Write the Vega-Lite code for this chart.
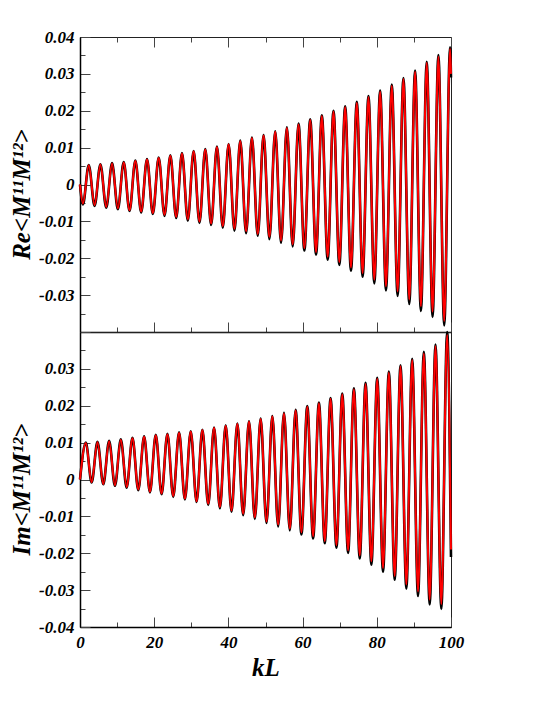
{
  "$schema": "https://vega.github.io/schema/vega-lite/v6.json",
  "autosize": {"type": "pad"},
  "padding": {"left": 8, "top": 27, "right": 0, "bottom": 0},
  "background": "white",
  "spacing": 0,
  "bounds": "flush",
  "config": {
    "view": {"stroke": "#222", "strokeWidth": 1},
    "axis": {
      "grid": false,
      "domainColor": "black",
      "domainWidth": 1.5,
      "tickColor": "#444",
      "tickWidth": 1,
      "labelFont": "Liberation Serif",
      "labelFontSize": 17,
      "labelFontWeight": "bold",
      "labelFontStyle": "italic",
      "labelColor": "black",
      "labelFlush": false,
      "labelOverlap": false,
      "titleFont": "Liberation Serif",
      "titleFontSize": 25,
      "titleFontWeight": "bold",
      "titleFontStyle": "italic",
      "titleColor": "black"
    }
  },
  "datasets": {
    "re": [
      {"x": 0, "r": 0, "b": 0},
      {"x": 0.79, "r": -0.0052, "b": -0.0054},
      {"x": 2.36, "r": 0.0052, "b": 0.0053},
      {"x": 3.93, "r": -0.0056, "b": -0.0058},
      {"x": 5.50, "r": 0.0054, "b": 0.0055},
      {"x": 7.07, "r": -0.0061, "b": -0.0063},
      {"x": 8.64, "r": 0.0057, "b": 0.0058},
      {"x": 10.21, "r": -0.0065, "b": -0.0067},
      {"x": 11.78, "r": 0.0060, "b": 0.0061},
      {"x": 13.35, "r": -0.0070, "b": -0.0072},
      {"x": 14.92, "r": 0.0064, "b": 0.0065},
      {"x": 16.49, "r": -0.0073, "b": -0.0076},
      {"x": 18.06, "r": 0.0068, "b": 0.0069},
      {"x": 19.63, "r": -0.0077, "b": -0.0080},
      {"x": 21.21, "r": 0.0072, "b": 0.0073},
      {"x": 22.78, "r": -0.0082, "b": -0.0085},
      {"x": 24.35, "r": 0.0078, "b": 0.0079},
      {"x": 25.92, "r": -0.0088, "b": -0.0091},
      {"x": 27.49, "r": 0.0084, "b": 0.0085},
      {"x": 29.06, "r": -0.0094, "b": -0.0098},
      {"x": 30.63, "r": 0.0090, "b": 0.0091},
      {"x": 32.20, "r": -0.0100, "b": -0.0104},
      {"x": 33.77, "r": 0.0095, "b": 0.0096},
      {"x": 35.34, "r": -0.0106, "b": -0.0110},
      {"x": 36.91, "r": 0.0102, "b": 0.0103},
      {"x": 38.48, "r": -0.0113, "b": -0.0117},
      {"x": 40.06, "r": 0.0109, "b": 0.0110},
      {"x": 41.63, "r": -0.0120, "b": -0.0125},
      {"x": 43.20, "r": 0.0118, "b": 0.0119},
      {"x": 44.77, "r": -0.0127, "b": -0.0132},
      {"x": 46.34, "r": 0.0126, "b": 0.0127},
      {"x": 47.91, "r": -0.0134, "b": -0.0139},
      {"x": 49.48, "r": 0.0133, "b": 0.0134},
      {"x": 51.05, "r": -0.0142, "b": -0.0148},
      {"x": 52.62, "r": 0.0143, "b": 0.0144},
      {"x": 54.19, "r": -0.0152, "b": -0.0158},
      {"x": 55.76, "r": 0.0153, "b": 0.0155},
      {"x": 57.33, "r": -0.0162, "b": -0.0168},
      {"x": 58.90, "r": 0.0163, "b": 0.0165},
      {"x": 60.48, "r": -0.0172, "b": -0.0179},
      {"x": 62.05, "r": 0.0175, "b": 0.0177},
      {"x": 63.62, "r": -0.0183, "b": -0.0190},
      {"x": 65.19, "r": 0.0186, "b": 0.0188},
      {"x": 66.76, "r": -0.0196, "b": -0.0204},
      {"x": 68.33, "r": 0.0198, "b": 0.0200},
      {"x": 69.90, "r": -0.0210, "b": -0.0218},
      {"x": 71.47, "r": 0.0210, "b": 0.0212},
      {"x": 73.04, "r": -0.0225, "b": -0.0234},
      {"x": 74.61, "r": 0.0222, "b": 0.0224},
      {"x": 76.18, "r": -0.0240, "b": -0.0250},
      {"x": 77.75, "r": 0.0237, "b": 0.0240},
      {"x": 79.33, "r": -0.0258, "b": -0.0268},
      {"x": 80.90, "r": 0.0252, "b": 0.0255},
      {"x": 82.47, "r": -0.0276, "b": -0.0287},
      {"x": 84.04, "r": 0.0268, "b": 0.0271},
      {"x": 85.61, "r": -0.0290, "b": -0.0302},
      {"x": 87.18, "r": 0.0286, "b": 0.0289},
      {"x": 88.75, "r": -0.0312, "b": -0.0324},
      {"x": 90.32, "r": 0.0306, "b": 0.0309},
      {"x": 91.89, "r": -0.0330, "b": -0.0343},
      {"x": 93.46, "r": 0.0330, "b": 0.0333},
      {"x": 95.03, "r": -0.0345, "b": -0.0359},
      {"x": 96.60, "r": 0.0347, "b": 0.0351},
      {"x": 98.17, "r": -0.0370, "b": -0.0382},
      {"x": 99.75, "r": 0.0368, "b": 0.0372},
      {"x": 100, "r": 0.0300, "b": 0.0290}
    ],
    "im": [
      {"x": 0, "r": 0, "b": 0},
      {"x": 1.57, "r": 0.0099, "b": 0.0100},
      {"x": 3.14, "r": -0.0007, "b": -0.0008},
      {"x": 4.71, "r": 0.0101, "b": 0.0102},
      {"x": 6.28, "r": -0.0012, "b": -0.0013},
      {"x": 7.85, "r": 0.0104, "b": 0.0105},
      {"x": 9.42, "r": -0.0016, "b": -0.0017},
      {"x": 11.00, "r": 0.0108, "b": 0.0109},
      {"x": 12.57, "r": -0.0020, "b": -0.0022},
      {"x": 14.14, "r": 0.0112, "b": 0.0113},
      {"x": 15.71, "r": -0.0027, "b": -0.0029},
      {"x": 17.28, "r": 0.0116, "b": 0.0117},
      {"x": 18.85, "r": -0.0033, "b": -0.0035},
      {"x": 20.42, "r": 0.0120, "b": 0.0121},
      {"x": 21.99, "r": -0.0038, "b": -0.0040},
      {"x": 23.56, "r": 0.0123, "b": 0.0124},
      {"x": 25.13, "r": -0.0045, "b": -0.0047},
      {"x": 26.70, "r": 0.0127, "b": 0.0128},
      {"x": 28.27, "r": -0.0052, "b": -0.0054},
      {"x": 29.85, "r": 0.0130, "b": 0.0131},
      {"x": 31.42, "r": -0.0059, "b": -0.0061},
      {"x": 32.99, "r": 0.0134, "b": 0.0135},
      {"x": 34.56, "r": -0.0066, "b": -0.0069},
      {"x": 36.13, "r": 0.0140, "b": 0.0141},
      {"x": 37.70, "r": -0.0075, "b": -0.0078},
      {"x": 39.27, "r": 0.0146, "b": 0.0147},
      {"x": 40.84, "r": -0.0084, "b": -0.0087},
      {"x": 42.41, "r": 0.0151, "b": 0.0152},
      {"x": 43.98, "r": -0.0093, "b": -0.0097},
      {"x": 45.55, "r": 0.0157, "b": 0.0158},
      {"x": 47.12, "r": -0.0103, "b": -0.0107},
      {"x": 48.69, "r": 0.0164, "b": 0.0165},
      {"x": 50.27, "r": -0.0114, "b": -0.0118},
      {"x": 51.84, "r": 0.0171, "b": 0.0172},
      {"x": 53.41, "r": -0.0122, "b": -0.0127},
      {"x": 54.98, "r": 0.0179, "b": 0.0181},
      {"x": 56.55, "r": -0.0133, "b": -0.0138},
      {"x": 58.12, "r": 0.0187, "b": 0.0189},
      {"x": 59.69, "r": -0.0143, "b": -0.0149},
      {"x": 61.26, "r": 0.0197, "b": 0.0199},
      {"x": 62.83, "r": -0.0154, "b": -0.0160},
      {"x": 64.40, "r": 0.0207, "b": 0.0209},
      {"x": 65.97, "r": -0.0167, "b": -0.0173},
      {"x": 67.54, "r": 0.0219, "b": 0.0221},
      {"x": 69.12, "r": -0.0178, "b": -0.0185},
      {"x": 70.69, "r": 0.0231, "b": 0.0233},
      {"x": 72.26, "r": -0.0192, "b": -0.0199},
      {"x": 73.83, "r": 0.0245, "b": 0.0247},
      {"x": 75.40, "r": -0.0206, "b": -0.0214},
      {"x": 76.97, "r": 0.0259, "b": 0.0262},
      {"x": 78.54, "r": -0.0222, "b": -0.0231},
      {"x": 80.11, "r": 0.0273, "b": 0.0276},
      {"x": 81.68, "r": -0.0240, "b": -0.0250},
      {"x": 83.25, "r": 0.0290, "b": 0.0293},
      {"x": 84.82, "r": -0.0262, "b": -0.0272},
      {"x": 86.39, "r": 0.0307, "b": 0.0310},
      {"x": 87.96, "r": -0.0285, "b": -0.0296},
      {"x": 89.54, "r": 0.0324, "b": 0.0327},
      {"x": 91.11, "r": -0.0304, "b": -0.0316},
      {"x": 92.68, "r": 0.0342, "b": 0.0346},
      {"x": 94.25, "r": -0.0326, "b": -0.0339},
      {"x": 95.82, "r": 0.0362, "b": 0.0366},
      {"x": 97.39, "r": -0.0338, "b": -0.0351},
      {"x": 98.96, "r": 0.0392, "b": 0.0400},
      {"x": 100, "r": -0.0190, "b": -0.0210}
    ]
  },
  "vconcat": [
    {
      "width": 371,
      "height": 295,
      "data": {"name": "re"},
      "layer": [
        {
          "mark": {"type": "line", "color": "black", "strokeWidth": 2.6, "interpolate": "monotone", "clip": false},
          "encoding": {
            "x": {"field": "x", "type": "quantitative",
              "scale": {"domain": [0, 100], "nice": false, "zero": false},
              "axis": {"orient": "bottom", "title": null, "labels": false,
                "values": [0, 10, 20, 30, 40, 50, 60, 70, 80, 90, 100],
                "tickSize": {"condition": {"test": "datum.value % 20 != 0", "value": -5}, "value": -10}}},
            "y": {"field": "b", "type": "quantitative",
              "scale": {"domain": [-0.04, 0.04], "nice": false, "zero": false},
              "axis": {"title": "Re<M¹¹M¹²>", "titleX": -51, "titleY": 157, "titleBaseline": "alphabetic", "titleAngle": -90, "titleAlign": "center",
                "values": [-0.04, -0.035, -0.03, -0.025, -0.02, -0.015, -0.01, -0.005, 0, 0.005, 0.01, 0.015, 0.02, 0.025, 0.03, 0.035, 0.04],
                "labelExpr": "(abs(round(datum.value*200)) % 2 == 1 || datum.value < -0.0399) ? '' : (abs(datum.value) < 1e-9 ? '0' : replace(format(datum.value, '.2f'), '\u2212', '-'))",
                "labelPadding": 16, "labelOverlap": false,
                "tickSize": {"condition": {"test": "abs(round(datum.value*200)) % 2 == 1", "value": -5}, "value": -10}}}
          }
        },
        {
          "mark": {"type": "line", "color": "#ff0000", "strokeWidth": 2, "interpolate": "monotone", "clip": false},
          "encoding": {
            "x": {"field": "x", "type": "quantitative",
              "scale": {"domain": [0, 100], "nice": false, "zero": false},
              "axis": {"orient": "top", "title": null, "labels": false, "domain": false,
                "values": [0, 10, 20, 30, 40, 50, 60, 70, 80, 90, 100],
                "tickSize": {"condition": {"test": "datum.value % 20 != 0", "value": -5}, "value": -10}}},
            "y": {"field": "r", "type": "quantitative",
              "scale": {"domain": [-0.04, 0.04], "nice": false, "zero": false},
              "axis": {"title": "Re<M¹¹M¹²>", "titleX": -51, "titleY": 157, "titleBaseline": "alphabetic", "titleAngle": -90, "titleAlign": "center",
                "values": [-0.04, -0.035, -0.03, -0.025, -0.02, -0.015, -0.01, -0.005, 0, 0.005, 0.01, 0.015, 0.02, 0.025, 0.03, 0.035, 0.04],
                "labelExpr": "(abs(round(datum.value*200)) % 2 == 1 || datum.value < -0.0399) ? '' : (abs(datum.value) < 1e-9 ? '0' : replace(format(datum.value, '.2f'), '\u2212', '-'))",
                "labelPadding": 16, "labelOverlap": false,
                "tickSize": {"condition": {"test": "abs(round(datum.value*200)) % 2 == 1", "value": -5}, "value": -10}}}
          }
        }
      ],
      "resolve": {"axis": {"x": "independent"}}
    },
    {
      "width": 371,
      "height": 295,
      "data": {"name": "im"},
      "layer": [
        {
          "mark": {"type": "line", "color": "black", "strokeWidth": 2.6, "interpolate": "monotone", "clip": false},
          "encoding": {
            "x": {"field": "x", "type": "quantitative",
              "scale": {"domain": [0, 100], "nice": false, "zero": false},
              "axis": {"orient": "bottom", "title": "kL", "titlePadding": 0,
                "values": [0, 10, 20, 30, 40, 50, 60, 70, 80, 90, 100],
                "labelExpr": "datum.value % 20 == 0 ? format(datum.value, 'd') : ''",
                "labelPadding": 17, "labelOverlap": false,
                "tickSize": {"condition": {"test": "datum.value % 20 != 0", "value": -5}, "value": -10}}},
            "y": {"field": "b", "type": "quantitative",
              "scale": {"domain": [-0.04, 0.04], "nice": false, "zero": false},
              "axis": {"title": "Im<M¹¹M¹²>", "titleX": -51, "titleY": 157, "titleBaseline": "alphabetic", "titleAngle": -90, "titleAlign": "center",
                "values": [-0.04, -0.035, -0.03, -0.025, -0.02, -0.015, -0.01, -0.005, 0, 0.005, 0.01, 0.015, 0.02, 0.025, 0.03, 0.035, 0.04],
                "labelExpr": "(abs(round(datum.value*200)) % 2 == 1 || datum.value > 0.0399) ? '' : (abs(datum.value) < 1e-9 ? '0' : replace(format(datum.value, '.2f'), '\u2212', '-'))",
                "labelPadding": 16, "labelOverlap": false,
                "tickSize": {"condition": {"test": "abs(round(datum.value*200)) % 2 == 1", "value": -5}, "value": -10}}}
          }
        },
        {
          "mark": {"type": "line", "color": "#ff0000", "strokeWidth": 2, "interpolate": "monotone", "clip": false},
          "encoding": {
            "x": {"field": "x", "type": "quantitative",
              "scale": {"domain": [0, 100], "nice": false, "zero": false},
              "axis": {"orient": "bottom", "title": "kL", "titlePadding": 0,
                "values": [0, 10, 20, 30, 40, 50, 60, 70, 80, 90, 100],
                "labelExpr": "datum.value % 20 == 0 ? format(datum.value, 'd') : ''",
                "labelPadding": 17, "labelOverlap": false,
                "tickSize": {"condition": {"test": "datum.value % 20 != 0", "value": -5}, "value": -10}}},
            "y": {"field": "r", "type": "quantitative",
              "scale": {"domain": [-0.04, 0.04], "nice": false, "zero": false},
              "axis": {"title": "Im<M¹¹M¹²>", "titleX": -51, "titleY": 157, "titleBaseline": "alphabetic", "titleAngle": -90, "titleAlign": "center",
                "values": [-0.04, -0.035, -0.03, -0.025, -0.02, -0.015, -0.01, -0.005, 0, 0.005, 0.01, 0.015, 0.02, 0.025, 0.03, 0.035, 0.04],
                "labelExpr": "(abs(round(datum.value*200)) % 2 == 1 || datum.value > 0.0399) ? '' : (abs(datum.value) < 1e-9 ? '0' : replace(format(datum.value, '.2f'), '\u2212', '-'))",
                "labelPadding": 16, "labelOverlap": false,
                "tickSize": {"condition": {"test": "abs(round(datum.value*200)) % 2 == 1", "value": -5}, "value": -10}}}
          }
        }
      ]
    }
  ]
}
